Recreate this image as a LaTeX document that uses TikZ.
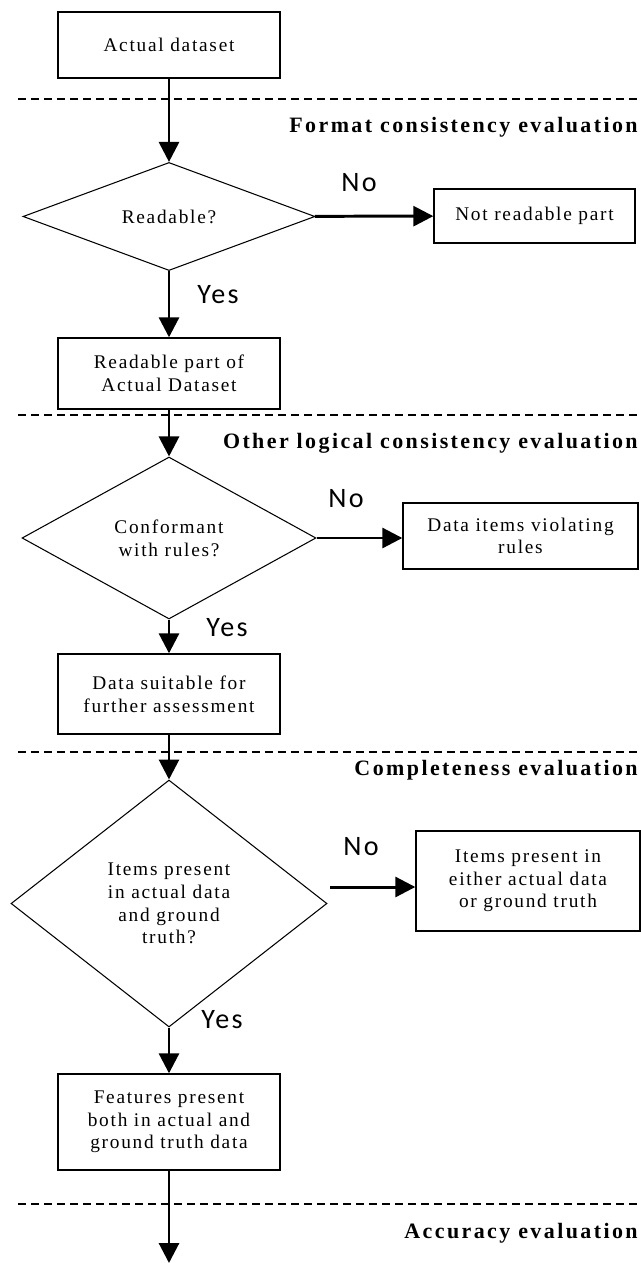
\documentclass[tikz,border=0pt]{standalone}
\usepackage{fontspec}
\setmainfont{Liberation Serif}[LetterSpace=9]
\newfontfamily\phasefont{Liberation Serif}[LetterSpace=11]
\newfontfamily\answerfont{Carlito}[LetterSpace=8]
\usepackage{tikz}
\usetikzlibrary{shapes.geometric, arrows.meta, positioning, calc}

\tikzset{
  stepbox/.style={draw, line width=0.8pt, align=center, inner sep=2pt,
    font=\fontsize{11}{12.9}\selectfont},
  decision/.style={draw, diamond, line width=0.6pt, align=center, inner sep=0pt,
    font=\fontsize{11}{12.9}\selectfont},
  flow/.style={-{Triangle[length=0.4cm, width=0.4cm]}, line width=1.7pt},
  phase/.style={dashed, dash pattern=on 0.16cm off 0.1cm, line width=1.2pt},
  phasename/.style={anchor=east, inner sep=0pt, font=\phasefont\bfseries\fontsize{12.5}{14}\selectfont},
  answer/.style={inner sep=0pt, font=\answerfont\fontsize{16}{19}\selectfont}
}

\begin{document}
\begin{tikzpicture}[x=0.02cm, y=-0.02cm]
  \useasboundingbox (0,0) rectangle (640,1263);

  % main column
  \node[stepbox, minimum width=4.44cm, minimum height=1.32cm] (actual) at (169,45) {Actual dataset};
  \node[decision, minimum width=5.84cm, minimum height=2.1cm] (readable) at (169,216.5) {Readable?};
  \node[stepbox, minimum width=4.44cm, minimum height=1.42cm] (readpart) at (169,373.5) {Readable part of\\Actual Dataset};
  \node[decision, minimum width=5.88cm, minimum height=3.24cm] (conform) at (169,538) {Conformant\\with rules?};
  \node[stepbox, minimum width=4.44cm, minimum height=1.6cm] (suitable) at (169,694) {Data suitable for\\further assessment};
  \node[decision, minimum width=6.32cm, minimum height=4.94cm] (present) at (169,903.5) {Items present\\in actual data\\and ground\\truth?};
  \node[stepbox, minimum width=4.44cm, minimum height=1.92cm] (features) at (169,1122) {Features present\\both in actual and\\ground truth data};
  \coordinate (onward) at (169,1263);

  % rejected parts
  \node[stepbox, minimum width=4.02cm, minimum height=1.08cm] (unread) at (534.5,216) {Not readable part};
  \node[stepbox, minimum width=4.7cm, minimum height=1.32cm] (violate) at (520.5,536) {Data items violating\\rules};
  \node[stepbox, minimum width=4.48cm, minimum height=2.0cm] (either) at (528,881) {Items present in\\either actual data\\or ground truth};
  \coordinate (nostart) at (330,887);

  % phases
  \draw[phase] (18,99) -- (640,99);
  \draw[phase] (18,415) -- (640,415);
  \draw[phase] (18,752) -- (640,752);
  \draw[phase] (18,1204) -- (640,1204);
  \node[phasename] (fmt) at (638,127) {Format consistency evaluation};
  \node[phasename] (logic) at (638,443) {Other logical consistency evaluation};
  \node[phasename] (compl) at (638,770) {Completeness evaluation};
  \node[phasename] (accur) at (638,1233) {Accuracy evaluation};

  % connectors
  \draw[flow] (actual) -- (readable);
  \draw[flow] (readable) -- (unread);
  \draw[flow] (readable) -- (readpart);
  \draw[flow] (readpart) -- (conform);
  \draw[flow] (conform.east) -- (conform.east -| violate.west);
  \draw[flow] (conform) -- (suitable);
  \draw[flow] (suitable) -- (present);
  \draw[flow] (nostart) -- (nostart -| either.west);
  \draw[flow] (present) -- (features);
  \draw[flow] (features) -- (onward);

  \node[answer] (no1) at (359,183) {No};
  \node[answer] (yes1) at (218,295) {Yes};
  \node[answer] (no2) at (346,499) {No};
  \node[answer] (yes2) at (227,628) {Yes};
  \node[answer] (no3) at (361,847) {No};
  \node[answer] (yes3) at (222,1020) {Yes};
\end{tikzpicture}
\end{document}
